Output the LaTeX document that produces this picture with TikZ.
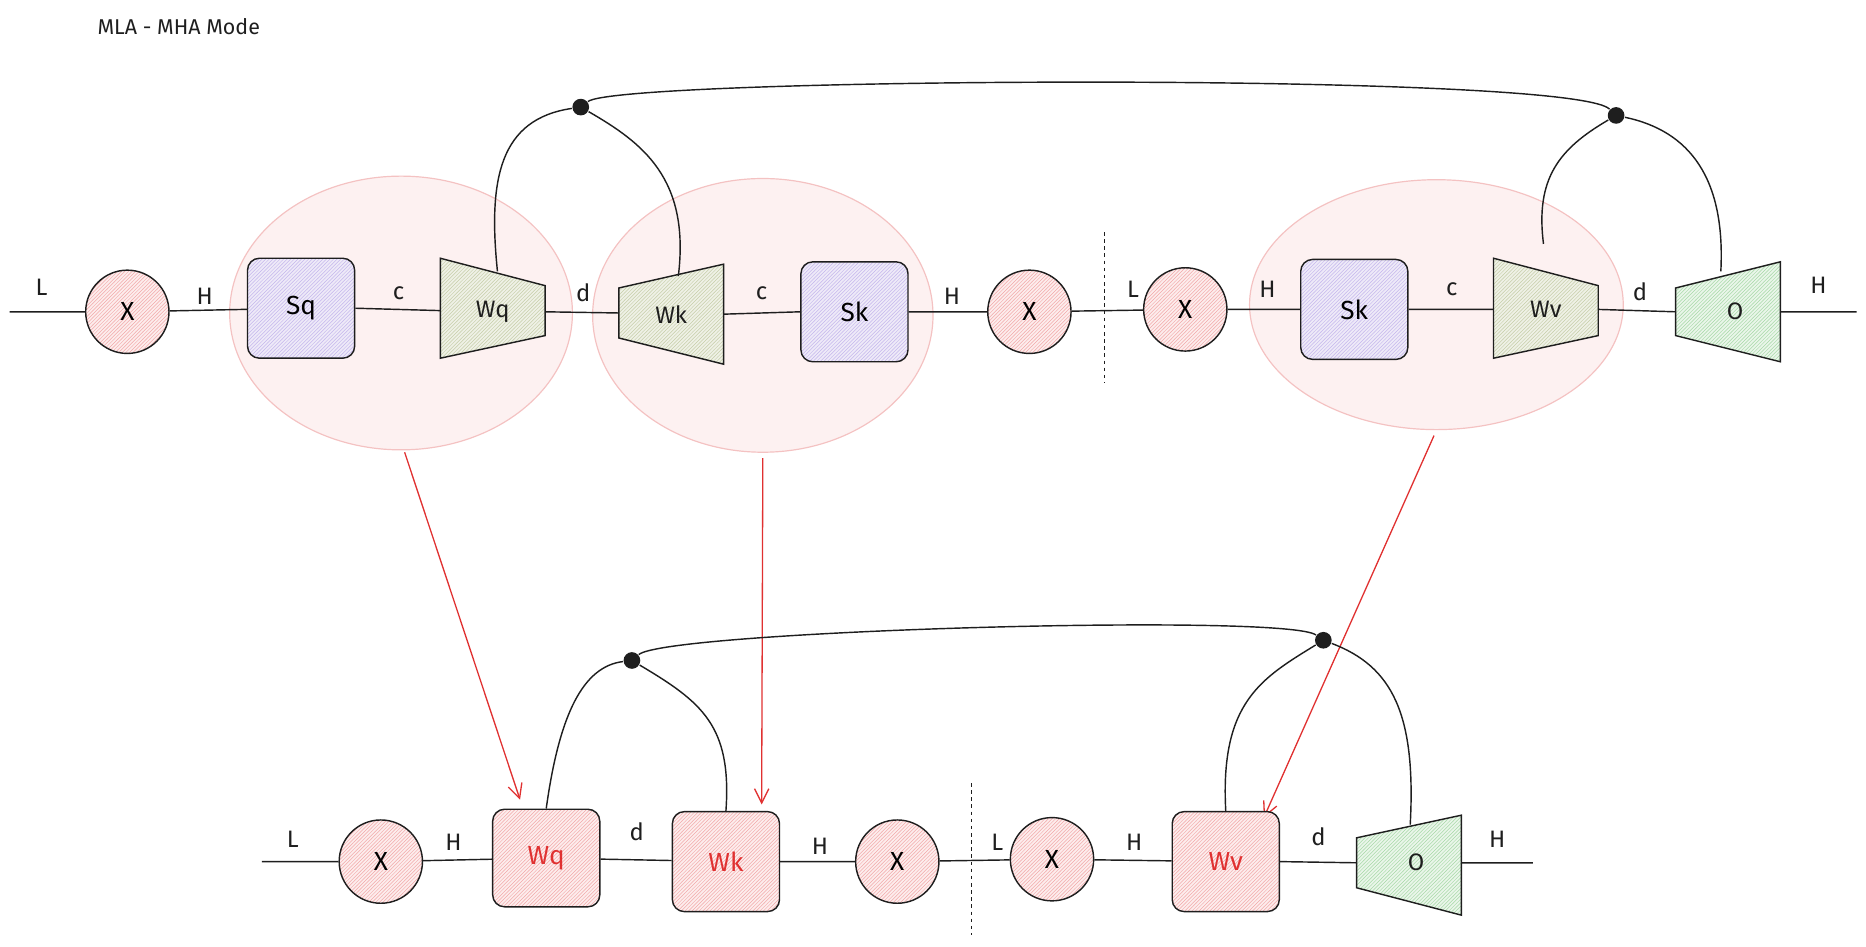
\documentclass[tikz,border=0pt]{standalone}
\usepackage{fontspec}
\setmainfont{Fira Sans}
\usetikzlibrary{patterns,arrows.meta}
\definecolor{pinkf}{HTML}{FDEDED}\definecolor{pinkh}{HTML}{F2A8A8}
\definecolor{purf}{HTML}{EEEAF8}\definecolor{purh}{HTML}{C4B6EC}
\definecolor{olf}{HTML}{EFF1E6}\definecolor{olh}{HTML}{C6CDA8}
\definecolor{grf}{HTML}{EAF6EA}\definecolor{grh}{HTML}{A6D8A6}
\definecolor{ell}{HTML}{FDF1F1}\definecolor{elld}{HTML}{F4C2C2}
\definecolor{redt}{HTML}{E03131}
\definecolor{ink}{HTML}{1E1E1E}
\begin{document}
\begin{tikzpicture}[x=1pt,y=-1pt,line width=1.2pt,draw=ink,
  xc/.style={circle,draw=ink,minimum size=70pt,inner sep=0pt,preaction={fill=pinkf},pattern=north east lines,pattern color=pinkh,font=\fontsize{22}{24}\selectfont},
  bx/.style={rounded corners=10pt,draw=ink,minimum width=90pt,minimum height=84pt,inner sep=0pt,font=\fontsize{22}{24}\selectfont},
  sbox/.style={bx,preaction={fill=purf},pattern=north east lines,pattern color=purh},
  rbox/.style={bx,preaction={fill=pinkf},pattern=north east lines,pattern color=pinkh,text=redt},
  tz/.style={draw=ink,preaction={fill=olf},pattern=north east lines,pattern color=olh},
  tzg/.style={draw=ink,preaction={fill=grf},pattern=north east lines,pattern color=grh},
  lb/.style={font=\fontsize{20}{22}\selectfont,text=ink},
  dot/.style={circle,fill=ink,inner sep=0pt,minimum size=14pt},
  el/.style={draw=elld,fill=ell,line width=1pt},
  ra/.style={draw=redt,line width=1.1pt,-{Straight Barb[length=12pt,width=12pt]}}]
\useasboundingbox (0,0) rectangle (1568,795);
\node[anchor=west,lb,font=\fontsize{18}{20}\selectfont] (title) at (78,22) {MLA - MHA Mode};
% ellipses
\draw[el] (337,263) ellipse [x radius=144,y radius=115];
\draw[el] (641,265) ellipse [x radius=143,y radius=115];
\draw[el] (1207,256) ellipse [x radius=157,y radius=105];
% top row
\coordinate (t0) at (8,262);
\node[xc] (x1) at (107,262) {X};
\node[sbox] (sq) at (253,259) {Sq};
\draw[tz] (370,217) -- (458,240) -- (458,282) -- (370,301) -- cycle;
\node[lb] (wq) at (414,262) {Wq};
\draw[tz] (520,242) -- (608,222) -- (608,306) -- (520,284) -- cycle;
\node[lb] (wk) at (564,264) {Wk};
\node[sbox] (sk) at (718,262) {Sk};
\node[xc] (x2) at (865,262) {X};
\node[xc] (x3) at (996,260) {X};
\node[sbox] (sk2) at (1138,260) {Sk};
\draw[tz] (1255,217) -- (1343,240) -- (1343,282) -- (1255,301) -- cycle;
\node[lb] (wv) at (1299,260) {Wv};
\draw[tzg] (1408,242) -- (1496,220) -- (1496,304) -- (1408,282) -- cycle;
\node[lb] (o1) at (1458,262) {O};
\coordinate (t1) at (1560,262);
\draw (t0) -- (x1) (x1) -- (sq) (sq.east) -- (370,261) (458,262) -- (520,263) (608,264) -- (sk.west) (sk) -- (x2) (x2) -- (x3) (x3) -- (sk2) (sk2.east) -- (1255,260) (1343,260) -- (1408,262) (1496,262) -- (t1);
\draw[dashed,line width=1pt] (928,195) -- (928,322);
\node[lb] at (35,241) {L}; \node[lb] at (172,249) {H}; \node[lb] at (335,246) {c};
\node[lb] at (490,246) {d}; \node[lb] at (640,246) {c}; \node[lb] at (800,249) {H};
\node[lb] at (952,243) {L}; \node[lb] at (1065,243) {H}; \node[lb] at (1220,243) {c};
\node[lb] at (1378,245) {d}; \node[lb] at (1528,240) {H};
\node[dot] (d1) at (488,90) {};
\node[dot] (d2) at (1358,97) {};
\draw (418,228) .. controls (410,150) and (420,100) .. (d1);
\draw (d1) .. controls (540,120) and (580,150) .. (570,232);
\draw (d1) .. controls (520,65) and (1320,60) .. (d2);
\draw (d2) .. controls (1310,125) and (1290,150) .. (1297,205);
\draw (d2) .. controls (1420,110) and (1450,150) .. (1446,228);
% red arrows
\draw[ra] (340,380) -- (437,672);
\draw[ra] (641,385) -- (640,676);
\draw[ra] (1205,366) -- (1062,687);
% bottom row
\coordinate (b0) at (220,724);
\node[xc] (bx1) at (320,724) {X};
\node[rbox,minimum height=82pt] (bwq) at (459,721) {Wq};
\node[rbox] (bwk) at (610,724) {Wk};
\node[xc] (bx2) at (754,724) {X};
\node[xc] (bx3) at (884,722) {X};
\node[rbox] (bwv) at (1030,724) {Wv};
\draw[tzg] (1140,704) -- (1228,685) -- (1228,769) -- (1140,746) -- cycle;
\node[lb] (o2) at (1190,725) {O};
\coordinate (b1) at (1288,725);
\draw (b0) -- (bx1) (bx1) -- (bwq) (bwq) -- (bwk) (bwk) -- (bx2) (bx2) -- (bx3) (bx3) -- (bwv) (bwv.east) -- (1140,725) (1228,725) -- (b1);
\draw[dashed,line width=1pt] (816,658) -- (816,786);
\node[lb] at (246,705) {L}; \node[lb] at (381,708) {H}; \node[lb] at (535,699) {d};
\node[lb] at (689,711) {H}; \node[lb] at (838,708) {L}; \node[lb] at (953,708) {H};
\node[lb] at (1108,703) {d}; \node[lb] at (1258,705) {H};
\node[dot] (d3) at (531,555) {};
\node[dot] (d4) at (1112,538) {};
\draw (bwq.north) .. controls (470,600) and (490,560) .. (d3);
\draw (d3) .. controls (590,590) and (615,610) .. (bwk.north);
\draw (d3) .. controls (560,530) and (1080,515) .. (d4);
\draw (d4) .. controls (1060,570) and (1025,590) .. (bwv.north);
\draw (d4) .. controls (1170,560) and (1190,600) .. (1185,693);
\end{tikzpicture}
\end{document}
